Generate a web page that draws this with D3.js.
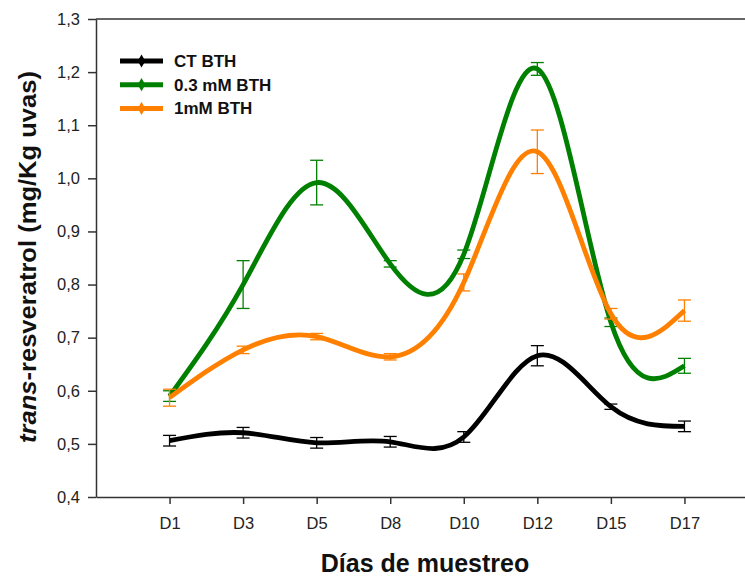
<!DOCTYPE html>
<meta charset="utf-8">
<style>
  body{margin:0;background:#fff;}
  .axis text{font-family:Arial,"Liberation Sans",sans-serif;fill:#222;}
  .axis path,.axis line{stroke:#333;stroke-width:1.5px;}
  .series path{fill:none;stroke-width:4.8px;}
</style>
<body>
<script src="https://cdn.jsdelivr.net/npm/d3@7"></script>
<script>

  var days=["D1","D3","D5","D8","D10","D12","D15","D17"];
  var ct=[0.506,0.521,0.502,0.504,0.513,0.666,0.570,0.533];
  var ctErr=[0.010,0.010,0.010,0.010,0.010,0.019,0.005,0.010];
  var bth03=[0.590,0.800,0.992,0.839,0.857,1.206,0.729,0.647];
  var bth03Err=[0.010,0.045,0.042,0.006,0.008,0.012,0.008,0.014];
  var bth1=[0.587,0.677,0.702,0.664,0.804,1.050,0.745,0.751];
  var bth1Err=[0.016,0.007,0.006,0.006,0.016,0.041,0.010,0.020];
  var names=["CT BTH","0.3 mM BTH","1mM BTH"];
  var yTicks=[0.4,0.5,0.6,0.7,0.8,0.9,1.0,1.1,1.2,1.3];

  var color={"CT BTH":"#000000","0.3 mM BTH":"#008000","1mM BTH":"#ff8000"};
  var series=[
    {name:names[0],vals:ct,err:ctErr},
    {name:names[1],vals:bth03,err:bth03Err},
    {name:names[2],vals:bth1,err:bth1Err}
  ];

  var svg=d3.select("body").append("svg").attr("width",745).attr("height",579);

  var x=d3.scalePoint().domain(days).range([96,758]).padding(1);
  var y=d3.scaleLinear().domain([0.4,1.3]).range([497,19]);
  var fmt=d3.formatLocale({decimal:",",thousands:".",grouping:[3],currency:["","€"]}).format(".1f");

  // frame top line
  svg.append("line").attr("x1",96).attr("x2",758).attr("y1",y(1.3)).attr("y2",y(1.3))
     .attr("stroke","#333").attr("stroke-width",1.5);

  var yAxis=svg.append("g").attr("class","axis").attr("transform","translate(96,0)")
     .call(d3.axisLeft(y).tickValues(yTicks).tickFormat(fmt).tickSize(8).tickSizeOuter(0).tickPadding(8));
  yAxis.selectAll("text").style("font-size","16.5px");

  var xAxis=svg.append("g").attr("class","axis").attr("transform","translate(0,497)")
     .call(d3.axisBottom(x).tickSize(7).tickSizeOuter(0).tickPadding(8));
  xAxis.selectAll("text").style("font-size","16.5px").attr("dy","1em");

  // axis titles
  svg.append("text").attr("x",425).attr("y",572).attr("text-anchor","middle")
     .style("font-family","Arial,'Liberation Sans',sans-serif").style("font-weight","bold")
     .style("font-size","25px").attr("fill","#111").text("Días de muestreo");

  var yt=svg.append("text").attr("transform","translate(36,257) rotate(-90)").attr("text-anchor","middle")
     .attr("textLength",372).attr("lengthAdjust","spacingAndGlyphs")
     .style("font-family","Arial,'Liberation Sans',sans-serif").style("font-weight","bold")
     .style("font-size","23px").attr("fill","#111");
  yt.append("tspan").style("font-style","italic").text("trans");
  yt.append("tspan").text("-resveratrol (mg/Kg uvas)");

  var line=d3.line().x((d,i)=>x(days[i])).y(d=>y(d)).curve(d3.curveNatural);

  var gs=svg.selectAll(".series").data(series).enter().append("g").attr("class","series");

  // error bars
  gs.each(function(s){
    var g=d3.select(this);
    var c=color[s.name];
    s.vals.forEach(function(v,i){
      var cx=x(days[i]);
      g.append("line").attr("x1",cx).attr("x2",cx).attr("y1",y(v-s.err[i])).attr("y2",y(v+s.err[i]))
       .attr("stroke",c).attr("stroke-width",1.3);
      [v-s.err[i],v+s.err[i]].forEach(function(e){
        g.append("line").attr("x1",cx-6.5).attr("x2",cx+6.5).attr("y1",y(e)).attr("y2",y(e))
         .attr("stroke",c).attr("stroke-width",1.3);
      });
    });
  });

  gs.append("path").attr("d",d=>line(d.vals)).attr("stroke",d=>color[d.name]);

  gs.each(function(s){
    d3.select(this).selectAll("path.mk").data(s.vals).enter().append("path").attr("class","mk")
      .attr("d",d3.symbol().type(d3.symbolDiamond).size(60))
      .attr("transform",(d,i)=>"translate("+x(days[i])+","+y(d)+")")
      .attr("fill",color[s.name]);
  });

  // legend
  var lg=svg.selectAll(".lg").data(series).enter().append("g").attr("class","lg")
     .attr("transform",(d,i)=>"translate(120,"+(61+i*23.7)+")");
  lg.append("line").attr("x1",0).attr("x2",43).attr("stroke",d=>color[d.name]).attr("stroke-width",5);
  lg.append("path").attr("d",d3.symbol().type(d3.symbolDiamond).size(50))
     .attr("transform","translate(21.5,0)").attr("fill",d=>color[d.name]);
  lg.append("text").attr("x",54).attr("y",6).text(d=>d.name)
     .style("font-family","Arial,'Liberation Sans',sans-serif").style("font-weight","bold")
     .style("font-size","17px").attr("fill","#111");

</script>
</body>
</html>
